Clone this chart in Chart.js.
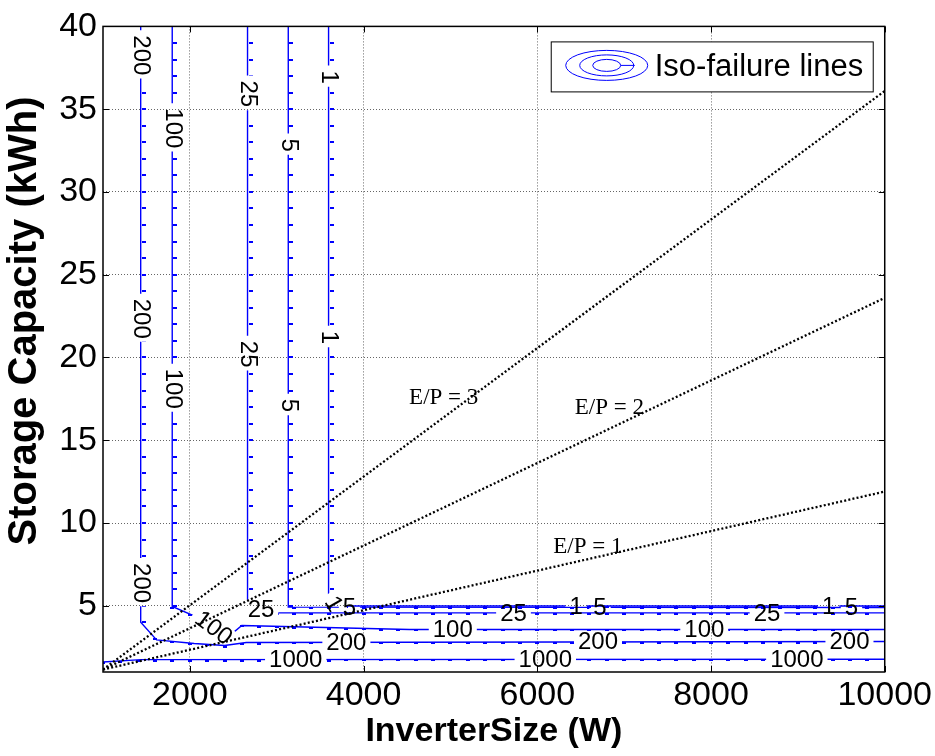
<!DOCTYPE html>
<html><head><meta charset="utf-8">
<script src="https://cdn.jsdelivr.net/npm/chart.js@4"></script>
<style>html,body{margin:0;padding:0;background:#fff;}canvas{display:block;}</style>
</head><body>
<canvas id="c" width="935" height="756"></canvas>
<script>
// ---------------- data ----------------
const xTicks = [2000, 4000, 6000, 8000, 10000];
const yTicks = [5, 10, 15, 20, 25, 30, 35, 40];
const xRange = [1000, 10000];
const yRange = [1, 40];
const xTitle = 'InverterSize (W)';
const yTitle = 'Storage Capacity (kWh)';
const legendText = 'Iso-failure lines';

// iso-failure contour lines (InverterSize W, Storage kWh)
const c1X    = [3597, 3597, 3720, 10000];
const c1Y    = [40, 5.4, 4.99, 4.99];
const c5X    = [3133, 3133, 10000];
const c5Y    = [40, 4.92, 4.9];
const c25X   = [2664, 2664, 2950, 10000];
const c25Y   = [40, 4.95, 4.58, 4.57];
const c100X  = [1797, 1797, 2101, 2369, 2407, 2598, 4527, 10000];
const c100Y  = [40, 4.96, 4.27, 3.27, 2.97, 3.81, 3.57, 3.57];
const c200X  = [1434, 1434, 1617, 2050, 2400, 2650, 10000];
const c200Y  = [40, 4.0, 2.94, 2.72, 2.6, 2.78, 2.84];
const c1000X = [1000, 1440, 10000];
const c1000Y = [1.6, 1.75, 1.77];

// contour label anchor points (data coords)
const c1Lab    = [[3597, 37.0], [3597, 21.27], [3650, 5.15], [6447, 4.99], [9354, 4.99]];
const c5Lab    = [[3133, 32.89], [3133, 17.16], [3838, 4.9], [6722, 4.9], [9617, 4.9]];
const c25Lab   = [[2664, 35.99], [2664, 20.26], [2819, 4.76], [5726, 4.57], [8645, 4.57]];
const c100Lab  = [[1797, 33.9], [1797, 18.17], [2269, 3.69], [5027, 3.57], [7923, 3.57]];
const c200Lab  = [[1434, 38.31], [1434, 22.40], [1434, 6.43], [3802, 2.80], [6699, 2.84], [9594, 2.84]];
const c1000Lab = [[3219, 1.77], [6092, 1.77], [8988, 1.77]];

// E/P reference lines
const epX  = [1000, 10000];
const ep1Y = [1.15, 11.9];
const ep2Y = [1.15, 23.6];
const ep3Y = [1.15, 36.1];
const epLabels = ['E/P = 1', 'E/P = 2', 'E/P = 3'];
const epLabelPos = [[6184, 8.18], [6432, 16.58], [4524, 17.16]];

// ---------------- styles ----------------
const SANS = '"Liberation Sans", Arial, Helvetica, sans-serif';
const SERIF = '"Liberation Serif", "Times New Roman", serif';
const BLUE = 'rgb(0,0,255)';
const LABEL_FONT = '24px ' + SANS;
const labelAngles = {
  '1':    [90, 90, 60, 0, 0],
  '5':    [90, 90, 0, 0, 0],
  '25':   [90, 90, 0, 0, 0],
  '100':  [90, 90, 37, 0, 0],
  '200':  [90, 90, 90, 0, 0, 0],
  '1000': [0, 0, 0]
};

const zip = (xs, ys) => xs.map((x, i) => ({x, y: ys[i]}));

function contourDs(level, xs, ys, labs) {
  return {
    label: 'Iso-failure ' + level, data: zip(xs, ys), contourLevel: level, contourLabels: labs,
    borderColor: BLUE, borderWidth: 1.4, pointRadius: 0, fill: false, tension: 0, order: 2
  };
}
function epDs(name, ys) {
  return {
    label: name, data: zip(epX, ys), borderColor: '#000', borderWidth: 2.3,
    borderDash: [2, 2.2], pointRadius: 0, fill: false, order: 1
  };
}

const datasets = [
  contourDs('1', c1X, c1Y, c1Lab),
  contourDs('5', c5X, c5Y, c5Lab),
  contourDs('25', c25X, c25Y, c25Lab),
  contourDs('100', c100X, c100Y, c100Lab),
  contourDs('200', c200X, c200Y, c200Lab),
  contourDs('1000', c1000X, c1000Y, c1000Lab),
  epDs(epLabels[0], ep1Y),
  epDs(epLabels[1], ep2Y),
  epDs(epLabels[2], ep3Y)
];

function labelRects(chart, ds) {
  const xs = chart.scales.x, ys = chart.scales.y, ctx = chart.ctx;
  ctx.save(); ctx.font = LABEL_FONT;
  const w = ctx.measureText(ds.contourLevel).width;
  ctx.restore();
  const ang = labelAngles[ds.contourLevel];
  return ds.contourLabels.map((p, i) => ({
    cx: xs.getPixelForValue(p[0]), cy: ys.getPixelForValue(p[1]),
    a: ang[i] * Math.PI / 180, w: w + 8, h: 20
  }));
}

const contourPlugin = {
  id: 'contour',
  beforeDatasetDraw(chart, args) {
    const ds = chart.data.datasets[args.index];
    if (!ds.contourLevel) return;
    const ctx = chart.ctx;
    ctx.save();
    ctx.beginPath();
    ctx.rect(0, 0, chart.width, chart.height);
    for (const r of labelRects(chart, ds)) {
      const c = Math.cos(r.a), s = Math.sin(r.a), hw = r.w / 2, hh = r.h / 2;
      const pts = [[-hw, -hh], [hw, -hh], [hw, hh], [-hw, hh]].map(([u, v]) => [r.cx + u * c - v * s, r.cy + u * s + v * c]);
      ctx.moveTo(pts[0][0], pts[0][1]);
      for (let k = 1; k < 4; k++) ctx.lineTo(pts[k][0], pts[k][1]);
      ctx.closePath();
    }
    ctx.clip('evenodd');
  },
  afterDatasetDraw(chart, args) {
    const ds = chart.data.datasets[args.index];
    if (!ds.contourLevel) return;
    const ctx = chart.ctx, xs = chart.scales.x, ys = chart.scales.y, a = chart.chartArea;
    // vertex marks of the contour mesh
    ctx.beginPath();
    ctx.rect(a.left, a.top, a.right - a.left, a.bottom - a.top);
    ctx.clip();
    ctx.fillStyle = BLUE;
    const pts = ds.data;
    for (let k = 0; k < pts.length - 1; k++) {
      const p = pts[k], q = pts[k + 1];
      if (p.x === q.x) {
        const lo = Math.min(p.y, q.y), hi = Math.max(p.y, q.y);
        for (let v = Math.ceil(lo); v <= hi; v += 1) {
          const px = xs.getPixelForValue(p.x), py = ys.getPixelForValue(v);
          ctx.fillRect(Math.round(px) + 1, Math.round(py) - 1, 4, 2);
        }
      } else {
        for (let u = Math.ceil(p.x / 200) * 200; u < q.x; u += 200) {
          const v = p.y + (q.y - p.y) * (u - p.x) / (q.x - p.x);
          const px = xs.getPixelForValue(u), py = ys.getPixelForValue(v);
          ctx.fillRect(Math.round(px) - 2, Math.round(py), 4, 2);
        }
      }
    }
    ctx.restore();
  },
  afterDatasetsDraw(chart) {
    const ctx = chart.ctx, xs = chart.scales.x, ys = chart.scales.y;
    ctx.save();
    ctx.fillStyle = '#000';
    ctx.font = LABEL_FONT;
    ctx.textAlign = 'center';
    ctx.textBaseline = 'middle';
    chart.data.datasets.forEach(ds => {
      if (!ds.contourLevel) return;
      for (const r of labelRects(chart, ds)) {
        ctx.save();
        ctx.translate(r.cx, r.cy + 1);
        ctx.rotate(r.a);
        ctx.fillText(ds.contourLevel, 0, 0);
        ctx.restore();
      }
    });
    // E/P annotations
    ctx.font = '23px ' + SERIF;
    ctx.textAlign = 'left';
    ctx.textBaseline = 'alphabetic';
    epLabels.forEach((t, i) => {
      ctx.fillText(t, xs.getPixelForValue(epLabelPos[i][0]), ys.getPixelForValue(epLabelPos[i][1]));
    });
    ctx.restore();
  },
  afterDraw(chart) {
    const ctx = chart.ctx, a = chart.chartArea, xs = chart.scales.x, ys = chart.scales.y;
    ctx.save();
    // inward ticks
    ctx.strokeStyle = '#000'; ctx.lineWidth = 1;
    ctx.beginPath();
    xTicks.forEach(v => {
      const px = Math.round(xs.getPixelForValue(v)) + 0.5;
      ctx.moveTo(px, a.bottom); ctx.lineTo(px, a.bottom - 6);
      ctx.moveTo(px, a.top); ctx.lineTo(px, a.top + 6);
    });
    yTicks.forEach(v => {
      const py = Math.round(ys.getPixelForValue(v)) + 0.5;
      ctx.moveTo(a.left, py); ctx.lineTo(a.left + 6, py);
      ctx.moveTo(a.right, py); ctx.lineTo(a.right - 6, py);
    });
    ctx.stroke();
    // axes box
    ctx.lineWidth = 1.5;
    ctx.strokeRect(a.left, a.top, a.right - a.left, a.bottom - a.top);
    // y axis title
    ctx.save();
    ctx.translate(25, 321);
    ctx.rotate(-Math.PI / 2);
    ctx.fillStyle = '#000';
    ctx.font = 'bold 40px ' + SANS;
    ctx.textAlign = 'center'; ctx.textBaseline = 'middle';
    ctx.fillText(yTitle, 0, 0);
    ctx.restore();
    // legend
    const lx = a.right - 334, ly = a.top + 15, lw = 322, lh = 50;
    ctx.fillStyle = '#fff';
    ctx.fillRect(lx, ly, lw, lh);
    ctx.lineWidth = 1;
    ctx.strokeStyle = '#000';
    ctx.strokeRect(lx + 0.5, ly + 0.5, lw, lh);
    const ecx = lx + 56, ecy = ly + 24;
    ctx.strokeStyle = BLUE; ctx.lineWidth = 1;
    [[41, 15], [27, 10.5], [14, 6]].forEach(([rx, ry]) => {
      ctx.beginPath(); ctx.ellipse(ecx, ecy, rx, ry, 0, 0, Math.PI * 2); ctx.stroke();
    });
    ctx.beginPath(); ctx.moveTo(ecx + 14, ecy); ctx.lineTo(ecx + 28, ecy); ctx.stroke();
    ctx.fillStyle = '#000';
    ctx.font = '31px ' + SANS;
    ctx.textAlign = 'left'; ctx.textBaseline = 'middle';
    ctx.fillText(legendText, lx + 104, ly + 26);
    ctx.restore();
  }
};

new Chart(document.getElementById('c'), {
  type: 'line',
  data: {datasets},
  plugins: [contourPlugin],
  options: {
    responsive: false, animation: false, devicePixelRatio: 1,
    layout: {padding: {top: 19, right: 47, left: 0, bottom: 0}},
    plugins: {legend: {display: false}, tooltip: {enabled: false}},
    scales: {
      x: {
        type: 'linear', min: xRange[0], max: xRange[1],
        afterBuildTicks: s => { s.ticks = xTicks.map(v => ({value: v})); },
        afterFit: s => { s.height = 84; },
        grid: {color: '#666', lineWidth: 1, drawTicks: false},
        border: {display: false, dash: [1, 2]},
        ticks: {padding: 3, color: '#000', font: {family: SANS, size: 34}, maxRotation: 0, autoSkip: false,
                callback: v => String(v)},
        title: {display: true, text: xTitle, color: '#000',
                font: {family: SANS, size: 34, weight: 'bold'}, padding: {top: 0, bottom: 4}}
      },
      y: {
        type: 'linear', min: yRange[0], max: yRange[1],
        afterBuildTicks: s => { s.ticks = yTicks.map(v => ({value: v})); },
        afterFit: s => { s.width = 103; },
        grid: {color: '#666', lineWidth: 1, drawTicks: false},
        border: {display: false, dash: [1, 2]},
        ticks: {padding: 6, color: '#000', font: {family: SANS, size: 34}, autoSkip: false,
                callback: v => String(v)},
        title: {display: false, text: yTitle}
      }
    }
  }
});
</script>
</body></html>
